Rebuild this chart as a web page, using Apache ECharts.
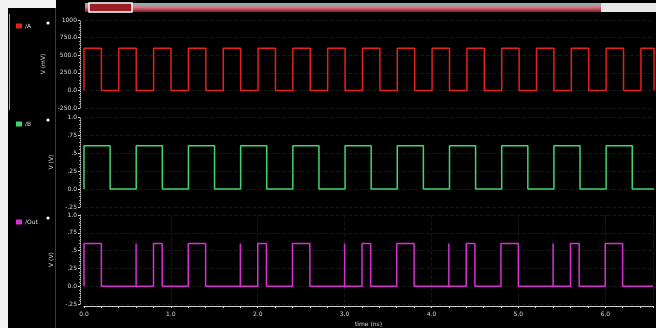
<!DOCTYPE html>
<html>
<head>
<meta charset="utf-8">
<script src="https://cdn.jsdelivr.net/npm/echarts@6/dist/echarts.min.js"></script>
<style>
  html, body { margin: 0; padding: 0; background: #000; }
  #chart { width: 656px; height: 328px; }
</style>
</head>
<body>
<div id="chart"></div>
<script>
// time axis (ns)
const timeMin = 0
const timeMax = 6.55
const timeTicks = ['0.0', '1.0', '2.0', '3.0', '4.0', '5.0', '6.0']

// signal names shown in the left panel
const signalNames = ['/A', '/B', '/Out']

// high pulses [start, end]
const pulsesA = [
  [0, 0.2], [0.4, 0.6], [0.8, 1.0], [1.2, 1.4], [1.6, 1.8], [2.0, 2.2], [2.4, 2.6], [2.8, 3.0],
  [3.2, 3.4], [3.6, 3.8], [4.0, 4.2], [4.4, 4.6], [4.8, 5.0], [5.2, 5.4], [5.6, 5.8], [6.0, 6.2],
  [6.4, 6.55],
]
const pulsesB = [
  [0, 0.3], [0.6, 0.9], [1.2, 1.5], [1.8, 2.1], [2.4, 2.7], [3.0, 3.3], [3.6, 3.9], [4.2, 4.5],
  [4.8, 5.1], [5.4, 5.7], [6.0, 6.3],
]
const pulsesOut = [
  [0, 0.2], [0.6, 0.6], [0.8, 0.9], [1.2, 1.4], [1.8, 1.8], [2.0, 2.1], [2.4, 2.6], [3.0, 3.0],
  [3.2, 3.3], [3.6, 3.8], [4.2, 4.2], [4.4, 4.5], [4.8, 5.0], [5.4, 5.4], [5.6, 5.7], [6.0, 6.2],
]

// logic levels
const levelsA = [0, 600]      // mV
const levelsB = [0, 0.6]      // V
const levelsOut = [0, 0.6]    // V

// y tick labels, bottom to top
const ticksMv = ['-250.0', '0.0', '250.0', '500.0', '750.0', '1000']
const ticksV = ['-.25', '0.0', '.25', '.5', '.75', '1.0']

const colors = ['#e3221c', '#3ed86c', '#d830d4']

function toTrace(pulses, levels) {
  const [lo, hi] = levels
  const pts = []
  pulses.forEach(([s, e]) => {
    pts.push([s, lo], [s, hi], [e, hi], [e, lo])
  })
  pts.push([timeMax, lo])
  return pts
}

const chart = echarts.init(document.getElementById('chart'))

const grids = [
  { left: 84, right: 2, top: 20, height: 88 },
  { left: 84, right: 2, top: 117, height: 90 },
  { left: 84, right: 2, top: 215, height: 92 },
]

const labelStyle = { color: '#d8d8d8', fontSize: 6, fontFamily: 'DejaVu Sans' }
const gridLine = { show: true, lineStyle: { color: '#161616', type: 'dashed', width: 1 } }

const xAxes = grids.map((g, i) => ({
  type: 'value',
  gridIndex: i,
  min: timeMin,
  max: timeMax,
  interval: 1,
  show: i === 2,
  axisLine: { show: true, onZero: false, lineStyle: { color: '#cfcfcf', width: 1 } },
  axisTick: { show: true, length: 2, lineStyle: { color: '#cfcfcf' } },
  minorTick: { show: true, splitNumber: 5, length: 2, lineStyle: { color: '#cfcfcf' } },
  axisLabel: { ...labelStyle, margin: 5, formatter: v => timeTicks[Math.round(v)] ?? '' },
  splitLine: gridLine,
  name: i === 2 ? 'time (ns)' : '',
  nameLocation: 'middle',
  nameGap: 15,
  nameTextStyle: { ...labelStyle },
  offset: 2,
}))

function yAxisFor(i, min, interval, labels, name) {
  return {
    type: 'value',
    gridIndex: i,
    min: min,
    max: min + interval * (labels.length - 1),
    interval: interval,
    offset: 4,
    axisLine: { show: true, onZero: false, lineStyle: { color: '#bbbbbb', width: 1, type: 'dotted' } },
    axisTick: { show: true, length: 2, lineStyle: { color: '#cfcfcf' } },
    minorTick: { show: true, splitNumber: 5, length: 1, lineStyle: { color: '#999' } },
    axisLabel: {
      ...labelStyle,
      margin: 3,
      formatter: v => labels[Math.round((v - min) / interval)] ?? '',
    },
    splitLine: gridLine,
    name: name,
    nameLocation: 'middle',
    nameGap: 16,
    nameRotate: 90,
    nameTextStyle: { ...labelStyle },
  }
}

const yAxes = [
  yAxisFor(0, -250, 250, ticksMv, 'V (mV)'),
  yAxisFor(1, -0.25, 0.25, ticksV, 'V (V)'),
  yAxisFor(2, -0.25, 0.25, ticksV, 'V (V)'),
]

const traces = [toTrace(pulsesA, levelsA), toTrace(pulsesB, levelsB), toTrace(pulsesOut, levelsOut)]

const series = traces.map((d, i) => ({
  name: signalNames[i],
  type: 'line',
  xAxisIndex: i,
  yAxisIndex: i,
  data: d,
  symbol: 'none',
  animation: false,
  lineStyle: { color: colors[i], width: 1.5 },
  itemStyle: { color: colors[i] },
}))

const legends = signalNames.map((n, i) => ({
  data: [n],
  left: 11,
  top: [18, 116, 214][i],
  orient: 'vertical',
  icon: 'rect',
  itemWidth: 6,
  itemHeight: 5,
  itemGap: 2,
  selectedMode: false,
  textStyle: { color: '#dddddd', fontSize: 6, fontFamily: 'DejaVu Sans', padding: [0, 0, 0, -2] },
}))

chart.setOption({
  animation: false,
  backgroundColor: '#000',
  grid: grids,
  xAxis: xAxes,
  yAxis: yAxes,
  legend: legends,
  series: series,
  graphic: [
    // left white border and top-left white strip
    { type: 'rect', shape: { x: 0, y: 0, width: 8, height: 328 }, style: { fill: '#f2f2f2' }, silent: true },
    { type: 'rect', shape: { x: 8, y: 0, width: 48, height: 8 }, style: { fill: '#f4f4f4' }, silent: true },
    // legend panel separator and active marker
    { type: 'line', shape: { x1: 55.5, y1: 8, x2: 55.5, y2: 328 }, style: { stroke: '#3a3a3a', lineWidth: 1 }, silent: true },
    { type: 'line', shape: { x1: 9.5, y1: 14, x2: 9.5, y2: 110 }, style: { stroke: '#c8b400', lineWidth: 1 }, silent: true },
    // white dots next to signal names
    { type: 'circle', shape: { cx: 48, cy: 23, r: 1.6 }, style: { fill: '#fff' }, silent: true },
    { type: 'circle', shape: { cx: 48, cy: 120, r: 1.6 }, style: { fill: '#fff' }, silent: true },
    { type: 'circle', shape: { cx: 48, cy: 218, r: 1.6 }, style: { fill: '#fff' }, silent: true },
    // overview strip on top
    {
      type: 'rect', shape: { x: 85, y: 3, width: 516, height: 9 }, silent: true,
      style: {
        fill: new echarts.graphic.LinearGradient(0, 0, 0, 1, [
          { offset: 0, color: '#5ccac2' },
          { offset: 0.45, color: '#e07a8a' },
          { offset: 1, color: '#8a1822' },
        ]),
      },
    },
    { type: 'rect', shape: { x: 601, y: 3, width: 55, height: 9 }, style: { fill: '#e8e8e8' }, silent: true },
    { type: 'rect', shape: { x: 89, y: 3, width: 43, height: 9 }, style: { fill: '#9a1c24', stroke: '#ffffff', lineWidth: 1.5 }, silent: true },
  ],
})
</script>
</body>
</html>
